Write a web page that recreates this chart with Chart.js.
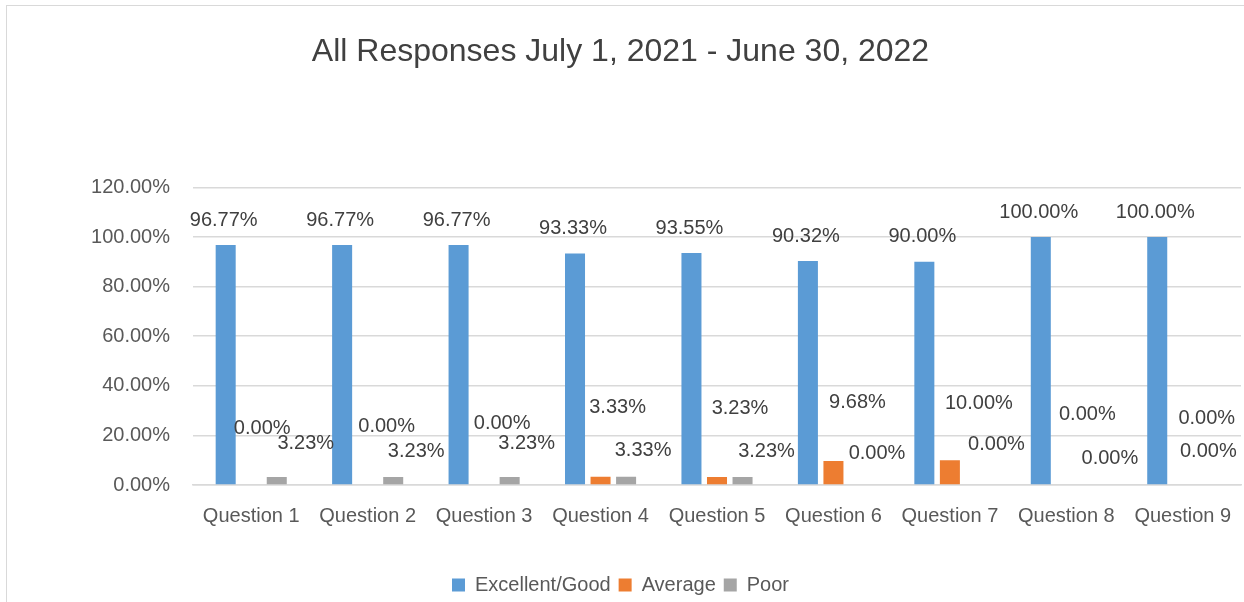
<!DOCTYPE html>
<html>
<head>
<meta charset="utf-8">
<script src="https://cdn.jsdelivr.net/npm/chart.js@4"></script>
<style>
  html, body { margin: 0; padding: 0; background: #ffffff; overflow: hidden; }
  #frame { position: absolute; left: 6px; top: 5px; width: 1400px; height: 800px;
           border: 1.5px solid #d9d9d9; box-sizing: border-box; }
  #wrap { position: absolute; left: 0; top: 0; width: 1244px; height: 602px; }
</style>
</head>
<body>
<div id="frame"></div>
<div id="wrap"><canvas id="c" width="1244" height="602"></canvas></div>
<script>
const categories = ["Question 1", "Question 2", "Question 3", "Question 4", "Question 5",
                    "Question 6", "Question 7", "Question 8", "Question 9"];
const excellentGood = [96.77, 96.77, 96.77, 93.33, 93.55, 90.32, 90.00, 100.00, 100.00];
const average       = [0.00, 0.00, 0.00, 3.33, 3.23, 9.68, 10.00, 0.00, 0.00];
const poor          = [3.23, 3.23, 3.23, 3.33, 3.23, 0.00, 0.00, 0.00, 0.00];
const yTicks = [0, 20, 40, 60, 80, 100, 120];
const titleText = "All Responses July 1, 2021 - June 30, 2022";

// label placement offsets (px, relative to the bar's top-centre) mimicking the manually moved labels
const labelOffsets = [
  [[-2,-25],[-2,-25],[-2,-25],[-2,-25],[-2,-25],[-2,-25],[-2,-25],[-2,-25],[-2,-25]],
  [[11,-57],[19,-59],[18,-62],[17,-69],[23,-69],[24,-59],[29,-57],[21,-71],[24,-67]],
  [[29,-34],[23,-26],[17,-34],[17,-26],[24,-26],[18,-32],[21,-41],[18,-27],[0,-34]]
];

const FONT = "'Liberation Sans', Arial, sans-serif";

const dataLabels = {
  id: 'dataLabels',
  afterDatasetsDraw(chart) {
    const ctx = chart.ctx;
    ctx.save();
    ctx.font = "20px " + FONT;
    ctx.fillStyle = "#404040";
    ctx.textAlign = "center";
    ctx.textBaseline = "middle";
    chart.data.datasets.forEach((ds, di) => {
      const meta = chart.getDatasetMeta(di);
      meta.data.forEach((bar, i) => {
        const off = labelOffsets[di][i];
        ctx.fillText(ds.data[i].toFixed(2) + "%", bar.x + off[0], bar.y + off[1]);
      });
    });
    ctx.restore();
  }
};

new Chart(document.getElementById('c'), {
  type: 'bar',
  data: {
    labels: categories,
    datasets: [
      { label: 'Excellent/Good', data: excellentGood, backgroundColor: '#5B9BD5' },
      { label: 'Average', data: average, backgroundColor: '#ED7D31' },
      { label: 'Poor', data: poor, backgroundColor: '#A5A5A5' }
    ]
  },
  options: {
    responsive: false,
    animation: false,
    devicePixelRatio: 1,
    categoryPercentage: 0.658,
    barPercentage: 0.784,
    layout: { padding: { left: 0, right: 3, top: 0, bottom: -3 } },
    plugins: {
      title: {
        display: true,
        text: titleText,
        color: '#404040',
        font: { family: FONT, size: 32, weight: 'normal' },
        padding: { top: 33, bottom: 116 }
      },
      legend: {
        display: true,
        position: 'bottom',
        labels: {
          color: '#595959',
          font: { family: FONT, size: 20 },
          boxWidth: 13,
          boxHeight: 13,
          padding: 8
        }
      },
      tooltip: { enabled: false }
    },
    scales: {
      x: {
        grid: { display: false, drawTicks: false },
        border: { display: true, color: '#d9d9d9', width: 1.5 },
        ticks: { color: '#595959', font: { family: FONT, size: 20 }, padding: 19, maxRotation: 0, autoSkip: false },
        afterFit(scale) { scale.height = 82; scale.paddingLeft = 0; scale.paddingRight = 0; }
      },
      y: {
        min: 0, max: 120,
        afterBuildTicks(scale) { scale.ticks = yTicks.map(v => ({ value: v })); },
        grid: { color: '#d9d9d9', lineWidth: 1.5, drawTicks: false },
        border: { display: false },
        ticks: {
          color: '#595959',
          font: { family: FONT, size: 20 },
          padding: 23,
          callback: v => v.toFixed(2) + '%'
        },
        afterFit(scale) { scale.width = 193; }
      }
    }
  },
  plugins: [dataLabels]
});
</script>
</body>
</html>
